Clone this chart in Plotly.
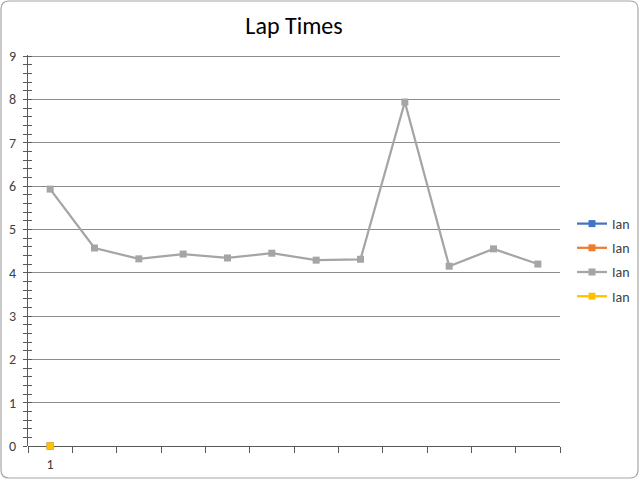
import plotly.graph_objects as go

laps = list(range(1, 13))
times = [5.93, 4.57, 4.32, 4.43, 4.34, 4.45, 4.29, 4.31, 7.94, 4.15, 4.55, 4.20]
empty_x = [1]
empty_y = [0]
names = ["Ian", "Ian", "Ian", "Ian"]
colors = ["#4472C4", "#ED7D31", "#A5A5A5", "#FFC000"]
y_ticks = list(range(0, 10))
x_label_vals = [1]
x_label_text = ["1"]

fig = go.Figure()
series = [(empty_x, empty_y), (empty_x, empty_y), (laps, times), (empty_x, empty_y)]
for i, ((xs, ys), nm, c) in enumerate(zip(series, names, colors)):
    fig.add_trace(go.Scatter(
        x=xs, y=ys, name=nm, mode="lines+markers",
        line=dict(color=c, width=2.25),
        marker=dict(symbol="square", size=7, color=c),
        legendgroup=f"g{i}", cliponaxis=False,
    ))

fig.add_trace(go.Scatter(x=[1], y=[0], yaxis="y2", showlegend=False,
                         mode="markers", marker=dict(opacity=0), hoverinfo="skip"))

W0, W1, H0, H1 = 28, 560, 55, 446
pw, ph = W1 - W0, H1 - H0
YMAX = 9.025
def px(x): return (x - W0) / pw
def py(y): return (H1 - y) / ph

x0, x1, yb, yt = px(1), px(638), py(478), py(1)
rx, ry = 8 / pw, 8 / ph
border = (f"M {x0+rx},{yt} L {x1-rx},{yt} Q {x1},{yt} {x1},{yt-ry} "
          f"L {x1},{yb+ry} Q {x1},{yb} {x1-rx},{yb} L {x0+rx},{yb} "
          f"Q {x0},{yb} {x0},{yb+ry} L {x0},{yt-ry} Q {x0},{yt} {x0+rx},{yt} Z")

fig.update_layout(
    width=640, height=480,
    margin=dict(l=W0, r=640 - W1, t=H0, b=480 - H1, autoexpand=False),
    paper_bgcolor="white", plot_bgcolor="white",
    font=dict(family="Calibri, Carlito, 'Liberation Sans', Arial, sans-serif", color="#595959"),
    title=dict(text="Lap Times", x=0.5, xref="paper", y=1 - 26 / 480, yanchor="middle",
               font=dict(size=24, color="#000000")),
    xaxis=dict(range=[0.5, 12.5], tickvals=x_label_vals, ticktext=x_label_text,
               ticks="", showgrid=False, zeroline=False, automargin=False,
               showline=False, tickfont=dict(size=14, color="#404040"),
               ticklabelstandoff=8,
               minor=dict(ticks="outside", tick0=0.5, dtick=1, ticklen=6,
                          tickcolor="#595959", tickwidth=1, showgrid=False)),
    yaxis=dict(range=[0, YMAX], tickvals=y_ticks, ticks="outside", ticklen=4,
               tickcolor="#595959", showgrid=True, gridcolor="#8C8C8C", gridwidth=1,
               zeroline=True, zerolinecolor="#595959", zerolinewidth=1.3,
               showline=True, linecolor="#595959", linewidth=1, automargin=False,
               tickfont=dict(size=14, color="#404040"), ticklabelstandoff=4,
               minor=dict(ticks="outside", dtick=0.2, ticklen=4,
                          tickcolor="#595959", showgrid=False)),
    yaxis2=dict(range=[0, YMAX], overlaying="y", side="left", tickvals=y_ticks,
                ticks="inside", ticklen=4, tickcolor="#595959", automargin=False,
                showticklabels=False, showgrid=False, zeroline=False, showline=False,
                minor=dict(ticks="inside", dtick=0.2, ticklen=4,
                           tickcolor="#595959", showgrid=False)),
    legend=dict(x=px(572), y=py(260), xanchor="left", yanchor="middle",
                font=dict(size=14, color="#404040"), tracegroupgap=3,
                itemwidth=30, bgcolor="rgba(0,0,0,0)"),
    showlegend=True,
    shapes=[dict(type="path", xref="paper", yref="paper", path=border,
                 line=dict(color="#A6A6A6", width=1.2), layer="below")],
)

fig.write_html("out.html", config={"displayModeBar": False},
               post_script="document.body.style.margin='0';")
